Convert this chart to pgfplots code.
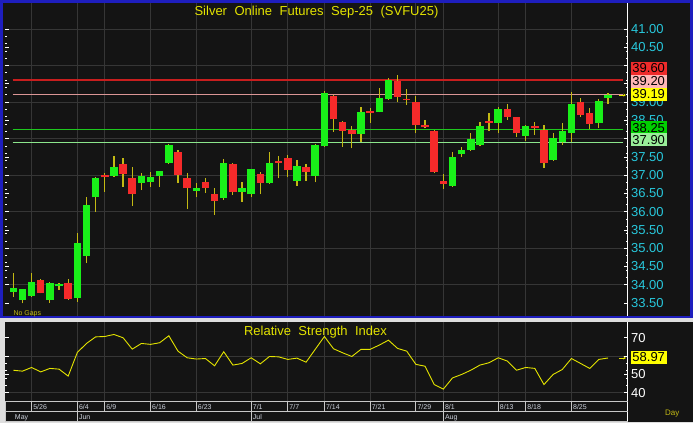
\documentclass[border=0pt]{standalone}
\usepackage{pgfplots}
\pgfplotsset{compat=1.18}
\usepackage{pgfplotstable}
\usepackage{fontspec}
\setmainfont{Liberation Sans}
\usetikzlibrary{arrows.meta}

\definecolor{outer}{RGB}{222,222,222}
\definecolor{frame}{RGB}{30,30,190}
\definecolor{panel}{RGB}{20,20,20}
\definecolor{gridc}{RGB}{54,54,54}
\definecolor{sepc}{RGB}{200,200,200}
\definecolor{cyanlab}{RGB}{40,200,220}
\definecolor{ttl}{RGB}{228,228,0}
\definecolor{wick}{RGB}{195,185,20}
\definecolor{cgreen}{RGB}{25,240,25}
\definecolor{cred}{RGB}{245,42,42}
\definecolor{lvred}{RGB}{200,30,30}
\definecolor{lvpink}{RGB}{220,150,150}
\definecolor{lvgreen}{RGB}{30,200,30}
\definecolor{lvlgreen}{RGB}{140,230,140}
\definecolor{bxred}{RGB}{238,43,43}
\definecolor{bxpink}{RGB}{255,182,182}
\definecolor{bxyellow}{RGB}{255,255,0}
\definecolor{bxgreen}{RGB}{0,208,0}
\definecolor{bxlgreen}{RGB}{153,238,153}
\definecolor{datec}{RGB}{205,210,220}

% daily candles: index, open, high, low, close
\pgfplotstableread{
i o h l c
1 33.81 34.32 33.66 33.90
2 33.58 33.89 33.49 33.87
3 33.70 34.31 33.67 34.08
4 34.13 34.15 33.76 33.78
5 33.58 34.08 33.50 34.06
6 33.96 34.04 33.85 34.02
7 34.06 34.16 33.59 33.61
8 33.63 35.41 33.53 35.15
9 34.79 36.41 34.59 36.18
10 36.39 36.95 36.00 36.93
11 37.01 37.07 36.55 36.94
12 36.98 37.52 36.95 37.21
13 37.30 37.46 36.68 37.02
14 36.93 37.21 36.16 36.48
15 36.79 37.05 36.59 36.98
16 36.80 37.08 36.68 36.96
17 36.98 37.12 36.67 37.10
18 37.34 37.85 37.30 37.83
19 37.63 37.69 36.78 37.01
20 36.93 37.07 36.07 36.64
21 36.57 36.79 36.39 36.66
22 36.81 36.91 36.52 36.66
23 36.48 36.66 35.91 36.29
24 36.38 37.44 36.32 37.34
25 37.30 37.32 36.46 36.55
26 36.53 36.81 36.27 36.66
27 36.48 37.18 36.39 37.16
28 37.03 37.08 36.48 36.79
29 36.79 37.62 36.77 37.32
30 37.39 37.53 36.91 37.34
31 37.46 37.55 36.94 37.14
32 36.84 37.41 36.71 37.26
33 37.21 37.30 36.84 37.09
34 36.98 37.84 36.80 37.82
35 37.81 39.31 37.78 39.24
36 39.17 39.19 38.19 38.53
37 38.46 38.48 37.78 38.22
38 38.24 38.34 37.73 38.12
39 38.12 38.87 37.92 38.74
40 38.76 38.83 38.43 38.71
41 38.74 39.39 38.72 39.12
42 39.08 39.65 39.06 39.60
43 39.58 39.74 38.99 39.15
44 39.09 39.35 38.92 39.06
45 39.01 39.17 38.14 38.37
46 38.37 38.51 38.28 38.33
47 38.21 38.23 37.07 37.09
48 36.85 37.02 36.61 36.75
49 36.71 37.64 36.68 37.50
50 37.57 37.76 37.50 37.70
51 37.69 38.14 37.67 37.98
52 37.82 38.46 37.80 38.35
53 38.48 38.69 38.21 38.44
54 38.42 38.86 38.14 38.81
55 38.81 38.95 38.51 38.60
56 38.58 38.60 38.05 38.14
57 38.08 38.37 37.94 38.35
58 38.35 38.46 38.10 38.28
59 38.24 38.37 37.19 37.32
60 37.41 38.16 37.39 38.01
61 37.90 38.42 37.82 38.21
62 38.16 39.28 37.92 38.94
63 39.01 39.12 38.60 38.65
64 38.71 38.83 38.25 38.40
65 38.42 39.08 38.30 39.04
66 39.12 39.24 38.95 39.19
}\candles

% relative strength index
\pgfplotstableread{
i r
1 52.3
2 51.8
3 53.8
4 51.4
5 53.3
6 52.9
7 49.1
8 62.0
9 66.9
10 70.5
11 70.7
12 71.8
13 70.0
14 63.8
15 66.9
16 66.4
17 67.3
18 71.1
19 62.7
20 59.1
21 58.4
22 58.7
23 54.7
24 62.4
25 55.1
26 56.0
27 59.1
28 55.8
29 59.8
30 59.6
31 58.2
32 58.9
33 56.7
34 63.7
35 70.7
36 64.0
37 61.8
38 59.8
39 63.7
40 63.7
41 66.0
42 68.7
43 64.2
44 62.7
45 55.5
46 54.5
47 44.5
48 42.0
49 48.1
50 50.0
51 52.3
52 55.1
53 56.4
54 59.1
55 57.3
56 52.3
57 53.8
58 53.3
59 44.5
60 50.0
61 52.7
62 58.7
63 56.0
64 53.3
65 58.2
66 58.97
}\rsi

\pgfplotsset{
  pane/.style={
    anchor=south west, scale only axis, width=622.5pt,
    xmin=0.093, xmax=68.13,
    axis line style={draw=none},
    xtick={3,8,11,16,21,27,31,35,40,45,48,54,57,62},
    xtick style={draw=none}, grid=major,
    major grid style={draw=gridc, line width=0.8pt},
    ytick pos=both, yticklabel pos=right,
    ytick style={draw=white, line width=0.7pt},
    minor y tick num=4,
    major tick length=4pt, minor tick length=2pt,
    extra y tick style={grid=none},
  },
  % one vertical segment per row, from y to y + plus error
  candle/.style 2 args={draw=none, mark=none,
    error bars/.cd, y dir=plus, y explicit, error mark=none,
    error bar style={draw=#1, line width=#2}},
}

\begin{document}
\begin{tikzpicture}[x=1pt,y=1pt]
\fill[outer] (0,0) rectangle (693,423);
\fill[frame] (0,105) rectangle (693,423);
\fill[panel] (3,107) rectangle (690,420);
\fill[panel] (5,1) rectangle (693,101);

% price pane
\begin{axis}[pane, at={(5pt,107pt)}, height=313pt,
  ymin=33.143, ymax=41.712,
  xticklabels={},
  ytick={34,35,36,37,38,39,40,41},
  yticklabels={34.00,35.00,36.00,37.00,,39.00,,41.00},
  extra y ticks={33.5,34.5,35.5,36.5,37.5,38.5,39.5,40.5},
  extra y tick labels={33.50,34.50,35.50,36.50,37.50,38.50,,40.50},
  yticklabel style={font=\fontsize{13}{13}\selectfont, text=cyanlab},
]
\addplot[lvred, line width=1.4pt] coordinates {(0.93,39.60) (67.6,39.60)};
\addplot[lvpink, line width=1.4pt] coordinates {(0.93,39.20) (67.6,39.20)};
\addplot[lvgreen, line width=1.2pt] coordinates {(0.93,38.25) (67.6,38.25)};
\addplot[lvlgreen, line width=1.2pt] coordinates {(0.93,37.90) (67.6,37.90)};
% wicks
\addplot[candle={wick}{1.2pt}]
  table[x=i, y=l, y error plus expr=\thisrow{h}-\thisrow{l}] {\candles};
% rising bodies
\addplot[restrict expr to domain={\thisrow{c}-\thisrow{o}}{0:100}, candle={cgreen}{7.5pt}]
  table[x=i, y=o, y error plus expr=\thisrow{c}-\thisrow{o}] {\candles};
% falling bodies
\addplot[restrict expr to domain={\thisrow{o}-\thisrow{c}}{0:100}, candle={cred}{7.5pt}]
  table[x=i, y=c, y error plus expr=\thisrow{o}-\thisrow{c}] {\candles};
\draw[ttl, line width=0.8pt, -{Stealth[length=2.5pt,width=3pt]}] (axis cs:67.25,39.19) -- (axis cs:67.95,39.19);
\end{axis}

% RSI pane
\begin{axis}[pane, at={(5pt,22.5pt)}, height=78.5pt, clip=false,
  ymin=35.8, ymax=78.6,
  xticklabels={5/26,6/4,6/9,6/16,6/23,7/1,7/7,7/14,7/21,7/29,8/1,8/13,8/18,8/25},
  xticklabel style={anchor=north west, inner sep=0pt, xshift=1.5pt, yshift=-4pt,
    font=\fontsize{7}{7}\selectfont, text=datec},
  extra x ticks={1,8,27,48}, extra x tick labels={May,Jun,Jul,Aug},
  extra x tick style={grid=none, tick label style={yshift=-9.5pt}},
  ytick={40,60}, yticklabels={40,},
  extra y ticks={50,70}, extra y tick labels={50,70},
  yticklabel style={font=\fontsize{13}{13}\selectfont, text=white},
]
\addplot[ttl, line width=0.9pt] table[x=i, y=r] {\rsi};
\draw[ttl, line width=0.8pt, -{Stealth[length=2.5pt,width=3pt]}] (axis cs:67.25,58.97) -- (axis cs:67.95,58.97);
\pgfplotsinvokeforeach{3,8,11,16,21,27,31,35,40,45,48,54,57,62}{
  \draw[sepc, line width=0.8pt] (axis cs:#1,35.8) ++(0pt,-1pt) -- ++(0pt,-10pt);}
\pgfplotsinvokeforeach{8,27,48}{
  \draw[sepc, line width=0.8pt] (axis cs:#1,35.8) ++(0pt,-11pt) -- ++(0pt,-10pt);}
\end{axis}

% axis lines and date row frames
\draw[white, line width=1pt] (627.5,107) -- (627.5,420);
\draw[white, line width=1pt] (627.5,1) -- (627.5,101);
\draw[sepc, line width=1pt] (5,21.5) -- (627.5,21.5);
\draw[sepc, line width=1pt] (5,11.5) -- (627.5,11.5);
\draw[sepc, line width=1pt] (5,1.5) -- (627.5,1.5);
\draw[sepc, line width=1pt] (5.5,1) -- (5.5,22);

% titles and notes
\node[anchor=base, inner sep=0pt, text=ttl, font=\fontsize{13}{15}\selectfont] at (316.5,407.5)
  {\spaceskip=7.5pt Silver Online Futures Sep-25 (SVFU25)};
\node[anchor=base, inner sep=0pt, text=ttl, font=\fontsize{13}{15}\selectfont] at (315.5,87.5)
  {\spaceskip=7.5pt Relative Strength Index};
\node[anchor=base west, inner sep=0pt, text=wick, font=\fontsize{7}{8}\selectfont] at (13.3,107.5) {No Gaps};
\node[anchor=base west, inner sep=0pt, text=wick, font=\fontsize{8}{9}\selectfont] at (665,8) {Day};

% last-value boxes, stacked as on the terminal
\tikzset{vbox/.style={anchor=west, inner sep=0pt, minimum width=36pt, minimum height=13pt,
  font=\fontsize{13}{13}\selectfont, text=black}}
\node[vbox, fill=bxred] at (630.5,354.5) {39.60};
\node[vbox, fill=bxpink] at (630.5,341.5) {39.20};
\node[vbox, fill=bxyellow] at (630.5,328.5) {39.19};
\node[vbox, fill=bxgreen] at (630.5,295) {38.25};
\node[vbox, fill=bxlgreen] at (630.5,283) {37.90};
\node[vbox, fill=bxyellow] at (630.5,65.5) {58.97};

\pgfresetboundingbox
\useasboundingbox (0,0) rectangle (693,423);
\end{tikzpicture}
\end{document}
